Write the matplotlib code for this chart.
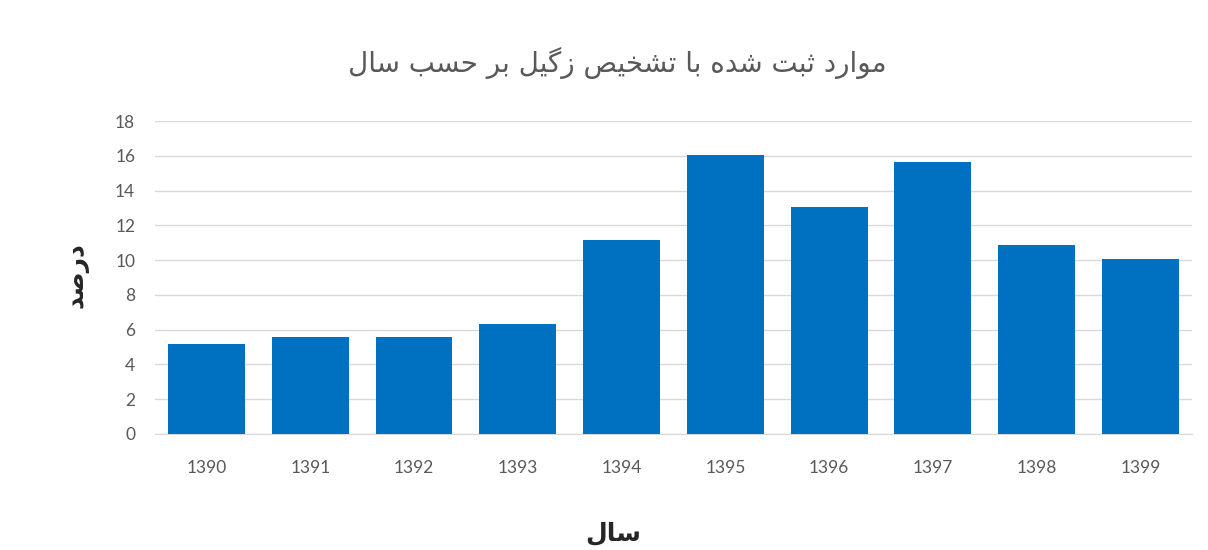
"""
Warts diagnosis records by year (bar chart, Persian labels)
"""
import matplotlib
matplotlib.use('Agg')
import matplotlib.pyplot as plt
import numpy as np

# Data
years = ['1390', '1391', '1392', '1393', '1394', '1395', '1396', '1397', '1398', '1399']
percent = [5.2, 5.55, 5.55, 6.35, 11.15, 16.05, 13.05, 15.65, 10.85, 10.05]
title_text = 'موارد ثبت شده با تشخیص زگیل بر حسب سال'
xlabel_text = 'سال'
ylabel_text = 'درصد'

# Arabic presentation forms: isolated, final, initial, medial
FORMS = {
    'ا': (0xFE8D, 0xFE8E), 'ب': (0xFE8F, 0xFE90, 0xFE91, 0xFE92),
    'ت': (0xFE95, 0xFE96, 0xFE97, 0xFE98), 'ث': (0xFE99, 0xFE9A, 0xFE9B, 0xFE9C),
    'ح': (0xFEA1, 0xFEA2, 0xFEA3, 0xFEA4), 'خ': (0xFEA5, 0xFEA6, 0xFEA7, 0xFEA8),
    'د': (0xFEA9, 0xFEAA), 'ر': (0xFEAD, 0xFEAE), 'ز': (0xFEAF, 0xFEB0),
    'س': (0xFEB1, 0xFEB2, 0xFEB3, 0xFEB4), 'ش': (0xFEB5, 0xFEB6, 0xFEB7, 0xFEB8),
    'ص': (0xFEB9, 0xFEBA, 0xFEBB, 0xFEBC), 'ل': (0xFEDD, 0xFEDE, 0xFEDF, 0xFEE0),
    'م': (0xFEE1, 0xFEE2, 0xFEE3, 0xFEE4), 'ه': (0xFEE9, 0xFEEA, 0xFEEB, 0xFEEC),
    'و': (0xFEED, 0xFEEE), 'ی': (0xFBFC, 0xFBFD, 0xFBFE, 0xFBFF),
    'گ': (0xFB92, 0xFB93, 0xFB94, 0xFB95),
}


def shape(text):
    out = []
    for i, ch in enumerate(text):
        if ch not in FORMS:
            out.append(ch)
            continue
        f = FORMS[ch]
        prev = text[i - 1] if i > 0 else ''
        nxt = text[i + 1] if i + 1 < len(text) else ''
        jp = prev in FORMS and len(FORMS[prev]) == 4
        jn = nxt in FORMS and len(f) == 4
        if jp and jn:
            cp = f[3]
        elif jp:
            cp = f[1]
        elif jn:
            cp = f[2]
        else:
            cp = f[0]
        out.append(chr(cp))
    return ''.join(reversed(out))


plt.rcParams['font.family'] = ['Lato', 'DejaVu Sans']

fig = plt.figure(figsize=(12.08, 5.5), dpi=100)
ax = fig.add_axes([0.128, 0.211, 0.859, 0.569])

x = np.arange(len(years))
ax.bar(x, percent, width=0.74, color='#0070C0', zorder=3)

ax.set_xlim(-0.5, len(years) - 0.5)
ax.set_ylim(0, 18)
ax.set_yticks(range(0, 19, 2))
ax.set_xticks(x)
ax.set_xticklabels(years)
ax.tick_params(axis='both', length=0, colors='#595959', labelsize=12.5)
ax.tick_params(axis='x', pad=19)
ax.tick_params(axis='y', pad=14)
ax.grid(axis='y', color='#d9d9d9', linewidth=1, zorder=0)
for s in ['top', 'right', 'left']:
    ax.spines[s].set_visible(False)
ax.spines['bottom'].set_color('#d9d9d9')

fig.text(0.511, 0.885, shape(title_text), ha='center', va='center',
         fontsize=20, color='#595959', family='DejaVu Sans')
fig.text(0.508, 0.03, shape(xlabel_text), ha='center', va='center',
         fontsize=18, fontweight='bold', color='#262626', family='DejaVu Sans')
fig.text(0.063, 0.5, shape(ylabel_text), ha='center', va='center', rotation=90,
         fontsize=18, fontweight='bold', color='#262626', family='DejaVu Sans')

plt.savefig('out.png', dpi=100)
